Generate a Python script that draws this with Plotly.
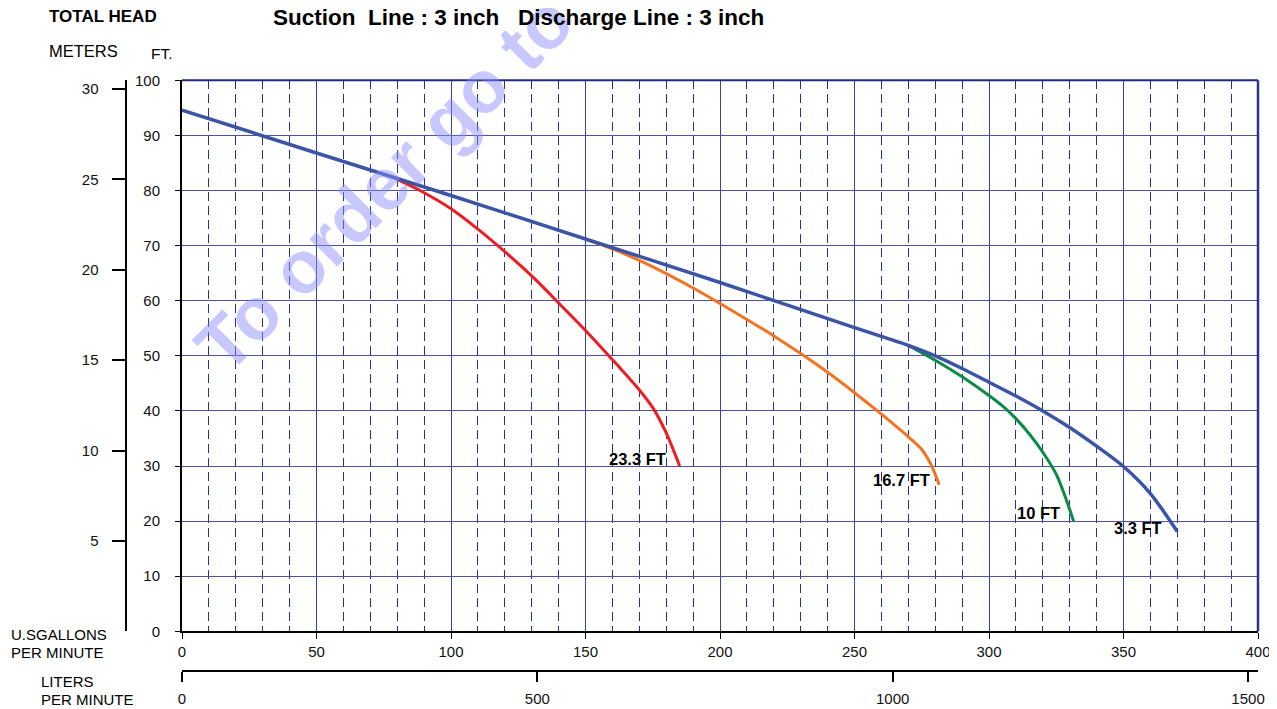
import plotly.graph_objects as go

# The page body has an 8px margin, so the figure is offset by 8px in the window.
OFF = 8
WIN_W, WIN_H = 1277, 709
W, H = WIN_W - OFF, WIN_H - OFF

# ---- data (US gallons per minute vs total head in feet) ----
head_3_3_gpm = [0, 50, 100, 150, 200, 250, 270, 280, 290, 300, 310, 320, 330, 340, 350, 360, 370]
head_3_3_ft = [94.6, 86.8, 79.1, 71.2, 63.3, 55.1, 51.9, 50.0, 47.7, 45.2, 42.7, 40.0, 37.0, 33.6, 29.9, 25.0, 18.1]

head_23_3_gpm = [80, 90, 100, 110, 120, 130, 140, 150, 160, 170, 175, 180, 185]
head_23_3_ft = [82.0, 79.6, 76.7, 73.0, 68.9, 64.5, 59.6, 54.6, 49.3, 43.8, 40.6, 36.0, 30.0]

head_16_7_gpm = [150, 160, 170, 180, 190, 200, 210, 220, 230, 240, 250, 260, 270, 275, 278.5, 281.5]
head_16_7_ft = [71.2, 69.4, 67.3, 64.9, 62.3, 59.5, 56.6, 53.6, 50.4, 47.0, 43.3, 39.4, 35.3, 33.0, 30.2, 26.6]

head_10_gpm = [270, 280, 290, 300, 305, 310, 315, 320, 325, 328.5, 331.5]
head_10_ft = [51.9, 49.2, 46.2, 42.8, 40.9, 38.6, 35.8, 32.5, 28.5, 24.2, 19.9]

series_names = ["3.3 FT", "23.3 FT", "16.7 FT", "10 FT"]
series_colors = ["#3c54a6", "#ee1d25", "#f47321", "#0c8a48"]

ft_ticks = list(range(0, 101, 10))
gpm_ticks = list(range(0, 401, 50))
meter_ticks = [5, 10, 15, 20, 25, 30]
liter_ticks = [0, 500, 1000, 1500]

FT_PER_M = 3.28084
L_PER_GAL = 3.785
GPM_MAX, FT_MAX = 400, 100

# label positions (gpm, ft)
label_pos = {"23.3 FT": (169.5, 31.2), "16.7 FT": (267.5, 27.5), "10 FT": (318.5, 21.4), "3.3 FT": (355.5, 18.8)}


def px(x):
    return (x - OFF) / W


def py(y):
    return 1 - (y - OFF) / H


fig = go.Figure()

data = [
    (head_3_3_gpm, head_3_3_ft),
    (head_23_3_gpm, head_23_3_ft),
    (head_16_7_gpm, head_16_7_ft),
    (head_10_gpm, head_10_ft),
]
for i in [1, 2, 3, 0]:
    xs, ys = data[i]
    fig.add_trace(go.Scatter(
        x=xs, y=ys, mode="lines", name=series_names[i],
        line=dict(color=series_colors[i], width=3.5 if i == 0 else 3, shape="spline", smoothing=0.8),
        showlegend=False, hoverinfo="skip",
    ))

# invisible trace so the secondary (meters / liters) axes are drawn
fig.add_trace(go.Scatter(
    x=[0, GPM_MAX * L_PER_GAL], y=[0, FT_MAX / FT_PER_M], xaxis="x2", yaxis="y2",
    mode="markers", marker=dict(opacity=0), showlegend=False, hoverinfo="skip",
))

font_family = "Liberation Sans, Arial, sans-serif"
tick_font = dict(family=font_family, size=15, color="#111")

x_domain = [px(182), px(1258)]
y_domain = [py(631.3), py(80.3)]

fig.update_layout(
    width=W, height=H,
    margin=dict(l=0, r=0, t=0, b=0, autoexpand=False),
    paper_bgcolor="white", plot_bgcolor="white",
    xaxis=dict(
        domain=x_domain, range=[0, GPM_MAX], tickvals=gpm_ticks,
        ticks="outside", ticklen=6, tickwidth=1, tickcolor="black",
        showline=True, linecolor="black", linewidth=2,
        showgrid=True, gridcolor="#3a4190", gridwidth=1,
        minor=dict(dtick=10, showgrid=True, gridcolor="#27308a", griddash="9px,5px", gridwidth=1, ticks=""),
        zeroline=False, tickfont=tick_font, automargin=False, fixedrange=True,
    ),
    yaxis=dict(
        domain=y_domain, range=[0, FT_MAX], tickvals=ft_ticks,
        ticks="outside", ticklen=5, tickwidth=1, tickcolor="black",
        showline=True, linecolor="black", linewidth=2,
        showgrid=True, gridcolor="#4d529a", gridwidth=1.3,
        zeroline=False, tickfont=tick_font, automargin=False, ticklabelstandoff=12, fixedrange=True,
    ),
    yaxis2=dict(
        overlaying="y", anchor="free", position=px(125.5), side="left",
        range=[0, FT_MAX / FT_PER_M], tickvals=meter_ticks,
        ticks="outside", ticklen=13, tickwidth=1.5, tickcolor="black",
        showline=True, linecolor="black", linewidth=2, showgrid=False, zeroline=False,
        tickfont=tick_font, automargin=False, ticklabelstandoff=10, fixedrange=True,
    ),
    xaxis2=dict(
        overlaying="x", anchor="free", position=py(671), side="bottom",
        range=[0, GPM_MAX * L_PER_GAL], tickvals=liter_ticks,
        ticks="outside", ticklen=10, tickwidth=1.5, tickcolor="black",
        showline=True, linecolor="black", linewidth=2, showgrid=False, zeroline=False,
        tickfont=tick_font, automargin=False, ticklabelstandoff=4, fixedrange=True,
    ),
)

# frame: top and right borders in navy
fig.add_shape(type="line", xref="x domain", yref="y domain", x0=0, x1=1, y0=1, y1=1,
              line=dict(color="#1f2880", width=2), layer="above")
fig.add_shape(type="line", xref="x domain", yref="y domain", x0=1, x1=1, y0=0, y1=1,
              line=dict(color="#2a3392", width=2.5), layer="above")

# watermark
fig.add_annotation(xref="paper", yref="paper", x=px(384), y=py(183), text="<b>To order go to</b>",
                   showarrow=False, textangle=-45, xanchor="center", yanchor="middle",
                   font=dict(family=font_family, size=74, color="rgba(140,140,255,0.48)"))


def label(x, y, text, size=15, bold=False, anchor="left"):
    fig.add_annotation(xref="paper", yref="paper", x=px(x), y=py(y),
                       text=f"<b>{text}</b>" if bold else text, showarrow=False,
                       xanchor=anchor, yanchor="middle",
                       font=dict(family=font_family, size=size, color="black"))


label(47, 16, "TOTAL HEAD", 17, True)
label(271, 18, "Suction&nbsp;&nbsp;Line : 3 inch&nbsp;&nbsp;&nbsp;Discharge Line : 3 inch", 22.5, True)
label(47, 51, "METERS", 16.5)
label(149, 54, "FT.", 15.5)
label(9, 634, "U.SGALLONS", 15)
label(9, 652, "PER MINUTE", 15)
label(39, 681, "LITERS", 15)
label(39, 699, "PER MINUTE", 15)

for name, (gx, gy) in label_pos.items():
    fig.add_annotation(x=gx, y=gy, xref="x", yref="y", text=f"<b>{name}</b>", showarrow=False,
                       xanchor="center", yanchor="middle",
                       font=dict(family=font_family, size=16.5, color="black"))

fig.write_html("out.html")
